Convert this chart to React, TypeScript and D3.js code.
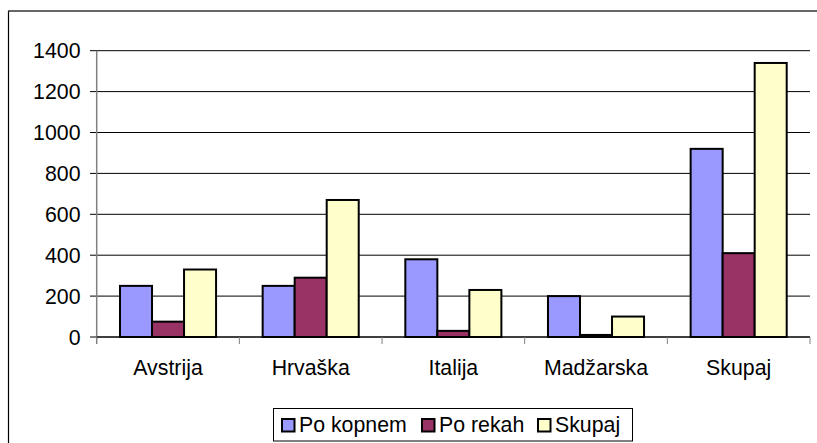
import React from "react";
import * as d3 from "d3";

const categories = ["Avstrija", "Hrvaška", "Italija", "Madžarska", "Skupaj"];
const seriesNames = ["Po kopnem", "Po rekah", "Skupaj"];
const poKopnem = [250, 250, 380, 200, 920];
const poRekah = [75, 290, 30, 10, 410];
const skupaj = [330, 670, 230, 100, 1340];
const yTicks = [0, 200, 400, 600, 800, 1000, 1200, 1400];
const colors = ["#9999FF", "#993366", "#FFFFCC"];

const W = 817;
const H = 443;
const plotLeft = 96.7;
const plotRight = 810;
const plotTop = 50.7;
const plotBottom = 337;
const FONT = "'Liberation Sans', Arial, sans-serif";
const FS = 21.3;

export default function App() {
  const series = [poKopnem, poRekah, skupaj];
  const x0 = d3.scaleBand<string>().domain(categories).range([plotLeft, plotRight]).paddingInner(0).paddingOuter(0);
  const groupPad = 23.3;
  const x1 = d3
    .scaleBand<string>()
    .domain(seriesNames)
    .range([groupPad, x0.bandwidth() - groupPad])
    .padding(0);
  const y = d3.scaleLinear().domain([0, 1400]).range([plotBottom, plotTop]);

  const legendItems = [
    { name: seriesNames[0], sq: 282, tx: 299 },
    { name: seriesNames[1], sq: 422, tx: 439 },
    { name: seriesNames[2], sq: 538, tx: 555 },
  ];

  return (
    <div style={{ position: "absolute", left: 0, top: 0 }}>
      <svg width={W} height={H} style={{ display: "block", background: "#fff" }}>
        <rect x={0} y={0} width={W} height={H} fill="#fff" />
        {/* outer frame */}
        <line x1={8.5} y1={11} x2={8.5} y2={H} stroke="#000" strokeWidth={1.2} />
        <line x1={8} y1={11} x2={W} y2={11} stroke="#333" strokeWidth={1.6} />
        {/* gridlines */}
        {yTicks.map((t) => (
          <line key={"g" + t} x1={90} x2={plotRight} y1={y(t)} y2={y(t)} stroke="#000" strokeWidth={1} />
        ))}
        {/* y tick labels */}
        {yTicks.map((t) => (
          <text
            key={"yl" + t}
            x={80.5}
            y={y(t)}
            dy="0.36em"
            textAnchor="end"
            fontFamily={FONT}
            fontSize={FS}
            fill="#000"
          >
            {t}
          </text>
        ))}
        {/* bars */}
        {categories.map((c, ci) => (
          <g key={c} transform={`translate(${x0(c)},0)`}>
            {series.map((s, si) => (
              <rect
                key={si}
                x={x1(seriesNames[si])}
                y={y(s[ci])}
                width={x1.bandwidth()}
                height={plotBottom - y(s[ci])}
                fill={colors[si]}
                stroke="#000"
                strokeWidth={2}
              />
            ))}
          </g>
        ))}
        {/* y axis */}
        <line x1={plotLeft} x2={plotLeft} y1={plotTop} y2={plotBottom + 7} stroke="#808080" strokeWidth={1.5} />
        {/* x axis */}
        <line x1={plotLeft} x2={plotRight} y1={plotBottom} y2={plotBottom} stroke="#000" strokeWidth={1} />
        {categories.map((c) => (
          <line
            key={"xt" + c}
            x1={(x0(c) as number) + x0.bandwidth()}
            x2={(x0(c) as number) + x0.bandwidth()}
            y1={plotBottom}
            y2={plotBottom + 7}
            stroke="#808080"
            strokeWidth={1}
          />
        ))}
        {categories.map((c) => (
          <text
            key={"xl" + c}
            x={(x0(c) as number) + x0.bandwidth() / 2}
            y={375}
            textAnchor="middle"
            fontFamily={FONT}
            fontSize={FS}
            fill="#000"
          >
            {c}
          </text>
        ))}
        {/* legend */}
        <rect x={273.5} y={408.5} width={359} height={32.5} fill="#fff" stroke="#000" strokeWidth={1} />
        {legendItems.map((it, i) => (
          <g key={it.name}>
            <rect x={it.sq} y={419} width={12.5} height={12.5} fill={colors[i]} stroke="#000" strokeWidth={2} />
            <text x={it.tx} y={432} fontFamily={FONT} fontSize={FS} fill="#000">
              {it.name}
            </text>
          </g>
        ))}
      </svg>
    </div>
  );
}
